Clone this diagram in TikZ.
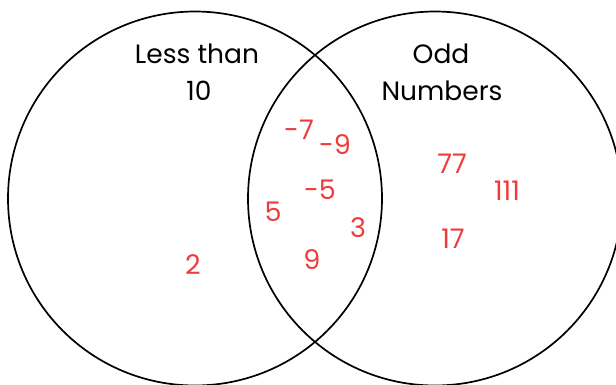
\documentclass[tikz,border=0pt]{standalone}
\usepackage{fontspec}
\setmainfont{Poppins}
\definecolor{numred}{HTML}{EE3B3B}
\begin{document}
\begin{tikzpicture}[x=1pt,y=-1pt,
  setcircle/.style={draw=black,line width=1.7pt},
  title/.style={font=\fontsize{26.5}{30}\selectfont,text=black,anchor=base,inner sep=0pt},
  num/.style={font=\fontsize{27}{30}\selectfont,text=numred,inner sep=0pt}]
\useasboundingbox (0,0) rectangle (616,384);
\node[setcircle,circle,minimum size=374pt,inner sep=0pt] (left) at (195,198.5) {};
\node[setcircle,circle,minimum size=374pt,inner sep=0pt] (right) at (435,198.5) {};
\node[title] (l1) at (197,63) {Less than};
\node[title] (l2) at (199,100) {10};
\node[title] (r1) at (441,63) {Odd};
\node[title] (r2) at (442,100) {Numbers};
\node[num] (n1) at (299,130) {-7};
\node[num] (n2) at (335,145) {-9};
\node[num] (n3) at (320,190) {-5};
\node[num] (n4) at (273,212) {5};
\node[num] (n5) at (358,228) {3};
\node[num] (n6) at (312,260) {9};
\node[num] (n7) at (452,164) {77};
\node[num] (n8) at (507,191) {111};
\node[num] (n9) at (453,239) {17};
\node[num] (n10) at (193,265) {2};
\end{tikzpicture}
\end{document}
